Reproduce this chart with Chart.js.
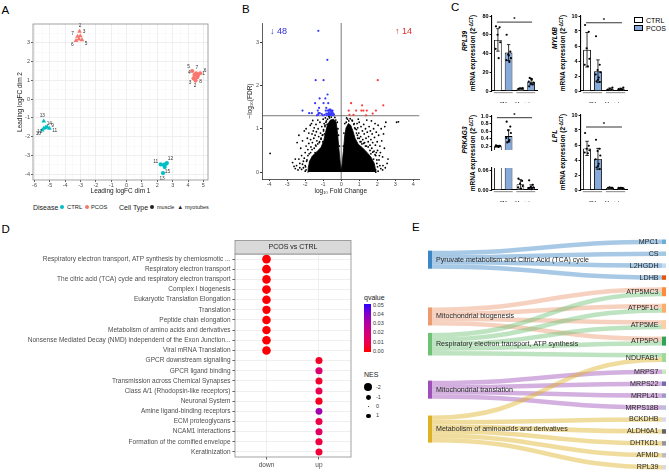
<!DOCTYPE html>
<html><head><meta charset="utf-8"><title>Figure</title>
<script src="https://cdn.jsdelivr.net/npm/chart.js@4.4.1/dist/chart.umd.min.js"></script>
<style>
html,body{margin:0;padding:0;background:#fff;}
body{width:669px;height:473px;position:relative;overflow:hidden;font-family:"Liberation Sans",Arial,Helvetica,sans-serif;color:#000;}
canvas{position:absolute;}
.t{position:absolute;white-space:nowrap;line-height:1;}
.L{font-size:11.5px;}
.rot{transform:translate(-50%,-50%) rotate(-90deg);}
.dot{position:absolute;border-radius:50%;}
sup{font-size:70%;vertical-align:0.4em;line-height:0;}
</style></head><body>
<div class="t L" style="left:1.5px;top:4.5px">A</div>
<div class="t L" style="left:242px;top:3.5px">B</div>
<div class="t L" style="left:451px;top:2px">C</div>
<div class="t L" style="left:1.5px;top:223.5px">D</div>
<div class="t L" style="left:412px;top:222px">E</div>

<!-- A legend -->
<div class="t" style="left:33px;top:204px;font-size:7px;color:#1A1A1A">Disease</div>
<div class="dot" style="left:59.7px;top:205.3px;width:4px;height:4px;background:#00BFC4"></div>
<div class="t" style="left:67px;top:204.6px;font-size:5.8px;color:#1A1A1A">CTRL</div>
<div class="dot" style="left:85.3px;top:205.3px;width:4px;height:4px;background:#F8766D"></div>
<div class="t" style="left:91px;top:204.6px;font-size:5.8px;color:#1A1A1A">PCOS</div>
<div class="t" style="left:119px;top:204px;font-size:7px;color:#1A1A1A">Cell Type</div>
<div class="dot" style="left:149.7px;top:205.3px;width:4px;height:4px;background:#222"></div>
<div class="t" style="left:157px;top:204.8px;font-size:5.5px;color:#1A1A1A">muscle</div>
<div class="t" style="left:177.3px;top:203.8px;font-size:6px;color:#222">▲</div>
<div class="t" style="left:185px;top:204.8px;font-size:5.5px;color:#1A1A1A">myotubes</div>

<!-- C axis titles -->
<div class="t rot" style="left:465px;top:41px;font-size:6.5px;font-weight:bold;font-style:italic">RPL39</div>
<div class="t rot" style="left:473px;top:53px;font-size:6.5px;font-weight:bold">mRNA expression (2<sup>-ΔCT</sup>)</div>
<div class="t rot" style="left:555px;top:38px;font-size:6.5px;font-weight:bold;font-style:italic">MYL6B</div>
<div class="t rot" style="left:563px;top:53px;font-size:6.5px;font-weight:bold">mRNA expression (2<sup>-ΔCT</sup>)</div>
<div class="t rot" style="left:465px;top:140px;font-size:6.5px;font-weight:bold;font-style:italic">PRKAG3</div>
<div class="t rot" style="left:473px;top:153px;font-size:6.5px;font-weight:bold">mRNA expression (2<sup>-ΔCT</sup>)</div>
<div class="t rot" style="left:555px;top:136px;font-size:6.5px;font-weight:bold;font-style:italic">LPL</div>
<div class="t rot" style="left:563px;top:152px;font-size:6.5px;font-weight:bold">mRNA expression (2<sup>-ΔCT</sup>)</div>
<!-- C legend -->
<div style="position:absolute;left:634px;top:17px;width:9px;height:6px;border:0.8px solid #000;background:#fff;box-sizing:border-box"></div>
<div class="t" style="left:646px;top:16.5px;font-size:7px">CTRL</div>
<div style="position:absolute;left:634px;top:25px;width:9px;height:6px;border:0.8px solid #000;background:#86AADB;box-sizing:border-box"></div>
<div class="t" style="left:646px;top:24.5px;font-size:7px">PCOS</div>

<!-- D legend -->
<div class="t" style="left:364px;top:294px;font-size:7px;color:#1A1A1A">qvalue</div>
<div style="position:absolute;left:364px;top:304px;width:6.5px;height:48px;background:linear-gradient(to top, rgb(255,0,0) 0%, rgb(234,0,80) 20%, rgb(212,0,122) 40%, rgb(178,0,160) 60%, rgb(128,0,205) 80%, rgb(40,0,255) 100%)"></div>
<div class="t" style="left:373px;top:302.5px;font-size:5.5px;color:#333">0.05</div>
<div class="t" style="left:373px;top:311.8px;font-size:5.5px;color:#333">0.04</div>
<div class="t" style="left:373px;top:321px;font-size:5.5px;color:#333">0.03</div>
<div class="t" style="left:373px;top:330.3px;font-size:5.5px;color:#333">0.02</div>
<div class="t" style="left:373px;top:339.5px;font-size:5.5px;color:#333">0.01</div>
<div class="t" style="left:373px;top:348.8px;font-size:5.5px;color:#333">0.00</div>
<div class="t" style="left:364px;top:370.5px;font-size:7px;color:#1A1A1A">NES</div>
<div class="dot" style="left:364.1px;top:383.1px;width:8.4px;height:8.4px;background:#000"></div>
<div class="t" style="left:376px;top:384.6px;font-size:5.5px;color:#333">-2</div>
<div class="dot" style="left:365.85px;top:394.85px;width:4.9px;height:4.9px;background:#000"></div>
<div class="t" style="left:376px;top:394.6px;font-size:5.5px;color:#333">-1</div>
<div class="dot" style="left:367.6px;top:406px;width:1.4px;height:1.4px;background:#000"></div>
<div class="t" style="left:376px;top:404px;font-size:5.5px;color:#333">0</div>
<div class="dot" style="left:365.85px;top:413.55px;width:4.9px;height:4.9px;background:#000"></div>
<div class="t" style="left:376px;top:413.3px;font-size:5.5px;color:#333">1</div>

<script>
Chart.defaults.font.family = '"Liberation Sans", Arial, Helvetica, sans-serif';
Chart.defaults.color = '#4D4D4D';

/* ===================== DATA ===================== */
// ---- A: MDS plot ----
const mdsXTicks = [-6,-5,-4,-3,-2,-1,0,1,2,3,4,5];
const mdsYTicks = [-4,-3,-2,-1,0,1,2,3];
const mdsCtrlMuscle = [[2.22,-3.47],[2.43,-3.50],[2.62,-3.40],[2.48,-3.61],[2.37,-3.93],[2.55,-3.45]];
const mdsCtrlMuscleIds = ['11','','12','15','13',''];
const mdsCtrlMyotubes = [[-5.40,-1.17],[-5.29,-1.51],[-5.03,-1.56],[-5.40,-1.56],[-5.50,-1.65],[-5.18,-1.47]];
const mdsCtrlMyotubesIds = ['13','14','11','12','10','9'];
const mdsPcosMuscle = [[4.27,1.50],[4.53,1.38],[4.79,1.38],[4.66,1.29],[4.42,1.29],[4.36,1.11],[4.60,1.17],[4.49,0.99]];
const mdsPcosMuscleIds = ['5','7','6','1','4','3','8','2'];
const mdsPcosMyotubes = [[-3.07,3.60],[-3.20,3.34],[-3.02,3.37],[-3.30,3.12],[-2.91,3.16],[-3.11,3.20]];
const mdsPcosMyotubesIds = ['2','7','3','6','5',''];

// ---- B: volcano plot ----
const volcanoXTicks = [-4,-3,-2,-1,0,1,2,3,4];
const volcanoYTicks = [0,1,2,3];
const fdrCut = 1.3; // -log10(0.05)
const volcanoDown = [[-1.27,3.26],[-0.77,2.59],[-1.42,2.12],[-0.98,2.12],[-0.76,1.79],[-1.20,1.70],[-0.88,1.70],[-1.45,1.59],[-0.98,1.59],[-0.72,1.59],
 [-1.23,1.48],[-0.83,1.48],[-2.15,1.42],[-1.30,1.42],[-0.86,1.42],[-0.77,1.42],[-0.70,1.42],[-0.62,1.42],[-0.55,1.42],[-0.48,1.42],
 [-1.78,1.36],[-1.63,1.36],[-1.26,1.36],[-1.19,1.36],[-1.28,1.32],[-1.08,1.34],[-0.83,1.35],[-0.74,1.35],[-0.65,1.35],[-0.55,1.36],
 [-0.46,1.36],[-0.92,1.32],[-0.80,1.31],[-0.70,1.31],[-0.62,1.31],[-0.58,1.33],[-0.52,1.32],[-0.66,1.44],[-0.60,1.44],[-0.68,1.38],
 [-0.57,1.39],[-0.50,1.39],[-0.63,1.34],[-0.71,1.33],[-0.45,1.31],[-1.02,1.31],[-1.35,1.31],[-0.40,1.33]];
const volcanoUp = [[2.03,2.12],[2.34,1.54],[0.55,1.59],[1.16,1.54],[0.42,1.42],[0.83,1.42],[1.12,1.42],[1.23,1.42],[1.42,1.42],[1.93,1.42],
 [1.75,1.35],[0.68,1.32],[0.46,1.32],[1.38,1.31]];
const volcanoOther = [[-3.95,0.43],
 [-2.62,0.13],[-2.55,0.30],[-2.45,0.68],[-2.35,0.85],[-2.30,0.20],[-2.25,0.55],[-2.20,0.38],[-2.15,0.72],[-2.10,0.10],[-2.05,0.95],
 [-2.00,0.45],[-1.95,1.00],[-1.95,0.60],[-1.90,0.28],[-1.88,0.78],[-1.85,0.52],[-1.80,0.90],[-1.80,0.66],[-1.78,0.42],[-1.72,1.08],
 [-1.70,0.75],[-1.68,0.58],[-1.65,1.12],[-1.62,0.88],[-1.60,0.68],[-1.58,1.19],[-1.55,0.95],[-1.52,0.78],[-1.50,1.02],[-1.45,0.85],
 [-1.42,0.62],[-1.40,1.10],[-1.38,0.93],[-1.35,0.72],[-1.30,1.20],[-1.28,1.00],[-1.25,0.82],[-1.22,0.68],[-1.18,1.15],[-1.15,0.90],
 [-1.12,0.76],[-1.08,1.05],[-1.05,0.85],[-1.02,0.70],[-1.00,1.22],[-0.98,0.95],[-0.95,1.12],[-0.92,0.88],[-0.90,1.05],[-0.88,1.25],
 [-2.40,0.05],[-2.00,0.15],[-2.10,0.25],[-1.95,0.05],[-2.55,0.08],[-2.70,0.22],
 [-2.00,0.02],[-1.98,0.12],[-1.92,0.25],[-1.85,0.38],[-1.70,0.45],[-1.62,0.52],[-1.50,0.55],[-1.40,0.60],[-1.30,0.65],[-1.20,0.70],
 [-1.12,0.78],[-1.02,0.86],[-0.98,0.98],[-0.90,1.08],[-0.85,1.15],[-0.76,1.22],[-0.68,1.28],[-2.20,0.06],[-2.30,0.10],[-2.15,0.18],
 [-2.05,0.32],[-1.75,0.22],[-1.60,0.35],[-1.45,0.45],[-2.35,0.30],[-2.48,0.15],
 [3.08,1.15],[3.18,1.16],[2.55,0.20],[2.48,1.15],[2.42,1.05],[2.40,0.55],[2.35,0.88],[2.32,0.15],[2.30,0.35],[2.25,0.72],
 [2.22,1.00],[2.18,0.45],[2.15,0.60],[2.10,0.28],[2.08,0.85],[2.05,1.08],[2.02,0.50],[2.00,0.70],[1.98,0.20],[1.95,0.92],
 [1.92,0.38],[1.90,0.62],[1.88,1.12],[1.85,0.80],[1.82,0.48],[1.80,1.00],[1.75,0.68],[1.72,0.88],[1.70,0.55],[1.68,1.18],
 [1.65,0.75],[1.62,0.95],[1.60,0.62],[1.55,1.05],[1.52,0.82],[1.50,0.70],[1.45,0.92],[1.42,1.20],[1.40,0.60],[1.38,0.78],
 [1.35,1.00],[1.30,0.68],[1.28,0.88],[1.25,1.10],[1.20,0.75],[1.18,0.95],[1.15,0.65],[1.10,1.05],[1.08,0.82],[1.05,0.70],
 [1.00,1.15],[0.98,0.90],[0.95,1.22],[0.92,1.02],[0.90,0.85],[0.88,1.12],[0.85,0.98],[2.45,0.10],[2.60,0.30],
 [2.05,0.02],[2.02,0.12],[1.98,0.28],[1.88,0.40],[1.75,0.46],[1.60,0.50],[1.50,0.58],[1.35,0.60],[1.25,0.66],[1.10,0.70],
 [1.00,0.78],[0.92,0.78],[0.85,0.90],[0.78,1.00],[0.72,1.12],[0.62,1.18],[2.20,0.08],[2.30,0.05],[2.15,0.15],[2.12,0.38],
 [1.95,0.45],[1.80,0.30],[1.65,0.42],
 [-0.82,1.18],[-0.78,1.10],[-0.65,1.25],[-0.55,1.27],[-0.35,1.26],[-0.30,1.20],[-0.22,1.15],[-0.18,1.00],[-0.15,0.85],[-0.10,0.60],
 [0.15,0.90],[0.20,1.12],[0.28,1.15],[0.35,1.22],[0.50,1.23],[0.60,1.20],[0.70,1.10],[0.75,1.02],[0.12,0.60],[0.30,1.25],[0.42,1.18]];
// outline of the saturated (overplotted) cloud of non-significant genes
const volcanoCore = [[-1.85,-0.02],[-1.83,0.10],[-1.75,0.26],[-1.58,0.38],[-1.35,0.47],[-1.12,0.57],[-0.97,0.72],[-0.87,0.92],[-0.76,1.10],[-0.60,1.20],
 [-0.42,1.22],[-0.28,1.15],[-0.21,0.93],[-0.13,0.55],[-0.05,0.20],[0.00,0.03],[0.05,0.18],[0.12,0.48],[0.20,0.86],[0.27,1.02],
 [0.40,1.12],[0.53,1.08],[0.65,0.95],[0.77,0.78],[0.95,0.64],[1.18,0.56],[1.42,0.46],[1.66,0.34],[1.84,0.20],[1.90,0.07],[1.92,-0.02]];

// ---- C: qPCR bar charts ----
const cGroups = ['SM','Myotubes'];
const rpl39CtrlMean = [54.5, 2.6],  rpl39CtrlSD = [12, 0.4];
const rpl39PcosMean = [41, 10],     rpl39PcosSD = [8.5, 3.3];
const rpl39CtrlDots = [[69,68,60,52,45,35],[2.2,2.5,2.8,3.0]];
const rpl39PcosDots = [[60,42,39,35,33,31,38],[5,7,8,9,10,12,13,14]];
const rpl39Sig = 73.5, rpl39Ticks = [0,20,40,60,80];
const myl6bCtrlMean = [5.5, 0.25],  myl6bCtrlSD = [2.3, 0.15];
const myl6bPcosMean = [2.65, 0.25], myl6bPcosSD = [1.5, 0.12];
const myl6bCtrlDots = [[8.8,7.9,5.7,4.3,3.5,3.3],[0.1,0.2,0.3,0.45,0.2]];
const myl6bPcosDots = [[7.3,3.5,2.8,2.5,2.2,1.8,1.5,1.3,1.2],[0.1,0.2,0.3,0.45,0.25,0.2]];
const myl6bSig = 9.1, myl6bTicks = [0,2,4,6,8,10];
const prkag3CtrlMean = [0.2, 0.018],  prkag3CtrlSD = [0.022, 0.014];
const prkag3PcosMean = [0.47, 0.009], prkag3PcosSD = [0.16, 0.007];
const prkag3CtrlDots = [[0.22,0.21,0.2,0.2,0.19,0.18],[0.035,0.028,0.02,0.012,0.008,0.004]];
const prkag3PcosDots = [[0.85,0.72,0.62,0.55,0.42,0.36,0.33,0.3],[0.03,0.016,0.01,0.008,0.005,0.003,0.002]];
const prkag3Sig = 0.955, prkag3TicksHigh = [0.2,0.4,0.6,0.8,1.0], prkag3TicksLow = [0,0.06];
const lplCtrlMean = [5.55, 0.3],  lplCtrlSD = [0.95, 0.05];
const lplPcosMean = [4.15, 0.25], lplPcosSD = [1.4, 0.06];
const lplCtrlDots = [[7.6,5.9,5.5,5.3,5.0,4.9],[0.3,0.28,0.35,0.3]];
const lplPcosDots = [[6.7,5.5,5.2,4.6,4.1,3.5,3.2,3.0,2.8],[0.25,0.2,0.3,0.22,0.28,0.3]];
const lplSig = 8.4, lplTicks = [0,2,4,6,8,10];

// ---- D: GSEA dot plot ----
const dFacet = 'PCOS vs CTRL';
const dDirLabels = ['down','up'];
const dTerms = ['Respiratory electron transport, ATP synthesis by chemiosmotic ...','Respiratory electron transport',
 'The citric acid (TCA) cycle and respiratory electron transport','Complex I biogenesis','Eukaryotic Translation Elongation',
 'Translation','Peptide chain elongation','Metabolism of amino acids and derivatives',
 'Nonsense Mediated Decay (NMD) independent of the Exon Junction...','Viral mRNA Translation',
 'GPCR downstream signalling','GPCR ligand binding','Transmission across Chemical Synapses','Class A/1 (Rhodopsin-like receptors)',
 'Neuronal System','Amine ligand-binding receptors','ECM proteoglycans','NCAM1 interactions','Formation of the cornified envelope','Keratinization'];
const dDirection = ['down','down','down','down','down','down','down','down','down','down','up','up','up','up','up','up','up','up','up','up'];
const dNES = [-2.1,-2.1,-2.05,-2.1,-2.05,-2.0,-2.05,-2.0,-2.05,-2.05,1.6,1.65,1.6,1.6,1.65,1.55,1.6,1.6,1.65,1.6];
const dQvalue = [0.0005,0.0005,0.0005,0.0005,0.0005,0.0005,0.0005,0.0005,0.0005,0.0005,0.005,0.017,0.006,0.01,0.004,0.033,0.009,0.014,0.008,0.007];

// ---- E: sankey ----
const sankeyPathways = ['Pyruvate metabolism and Citric Acid (TCA) cycle','Mitochondrial biogenesis',
 'Respiratory electron transport, ATP synthesis','Mitochondrial translation','Metabolism of aminoacids and derivatives'];
const sankeyGenes = ['MPC1','CS','L2HGDH','LDHB','ATP5MC3','ATP5F1C','ATP5ME','ATP5PO','NDUFAB1','MRPS7','MRPS22','MRPL41','MRPS18B',
 'BCKDHB','ALDH6A1','DHTKD1','AFMID','RPL39'];
const sankeyLinks = [[0,'MPC1'],[0,'CS'],[0,'L2HGDH'],[0,'LDHB'],
 [1,'ATP5MC3'],[1,'ATP5F1C'],[1,'ATP5ME'],[1,'ATP5PO'],
 [2,'ATP5MC3'],[2,'ATP5F1C'],[2,'ATP5ME'],[2,'ATP5PO'],[2,'NDUFAB1'],
 [3,'MRPS7'],[3,'MRPS22'],[3,'MRPL41'],[3,'MRPS18B'],
 [4,'NDUFAB1'],[4,'BCKDHB'],[4,'ALDH6A1'],[4,'DHTKD1'],[4,'AFMID'],[4,'RPL39']];

/* ===================== HELPERS ===================== */
const FONT = '"Liberation Sans", Arial, Helvetica, sans-serif';
function mkCanvas(left, top, w, h){
  const c = document.createElement('canvas');
  c.width = w; c.height = h;
  Object.assign(c.style, {left:left+'px', top:top+'px', width:w+'px', height:h+'px'});
  document.body.appendChild(c);
  return c;
}
function baseOptions(extra){
  return Object.assign({responsive:false, maintainAspectRatio:false, animation:false, devicePixelRatio:1, events:[]}, extra);
}
const noLegend = {legend:{display:false}, tooltip:{enabled:false}};
const framePlugin = (color, width) => ({id:'frame', afterDraw(chart){
  const a = chart.chartArea, c = chart.ctx; c.save(); c.strokeStyle = color; c.lineWidth = width;
  c.strokeRect(a.left, a.top, a.right-a.left, a.bottom-a.top); c.restore(); }});
const isInt = v => Math.abs(v - Math.round(v)) < 1e-6;
function majorMinor(ticks, min, max){
  const step = ticks[1]-ticks[0], out = [];
  for (let v = ticks[0]-step/2; v <= ticks[ticks.length-1]+step/2+1e-9; v += step/2){
    const r = Math.round(v*2)/2; if (r >= min && r <= max) out.push({value:r});
  }
  return out;
}
const toXY = arr => arr.map(([x,y]) => ({x, y}));

/* ===================== A ===================== */
(function(){
  const cv = mkCanvas(0, 0, 230, 200);
  const xMin = -6.1, xMax = 5.3, yMin = -4.3, yMax = 4.0;
  const ds = (pts, color, style) => ({data: toXY(pts), pointStyle: style, pointRadius: style === 'triangle' ? 2.7 : 2.1,
    backgroundColor: color, borderColor: color, borderWidth: 0});
  const gridOpts = {
    color: c => (c.tick && isInt(c.tick.value)) ? '#EBEBEB' : '#F5F5F5',
    lineWidth: c => (c.tick && isInt(c.tick.value)) ? 0.8 : 0.5,
    tickColor: c => (c.tick && isInt(c.tick.value)) ? '#333' : 'rgba(0,0,0,0)',
    tickLength: 2
  };
  const idSets = [mdsCtrlMuscleIds, mdsCtrlMyotubesIds, mdsPcosMuscleIds, mdsPcosMyotubesIds];
  const labelPlugin = {id:'mdsLabels', afterDatasetsDraw(chart){
    const ctx = chart.ctx; ctx.save();
    ctx.font = '4.8px ' + FONT; ctx.fillStyle = '#333'; ctx.textAlign = 'center'; ctx.textBaseline = 'middle';
    chart.data.datasets.forEach((d, di) => {
      const pts = chart.getDatasetMeta(di).data;
      const cx = pts.reduce((a,p)=>a+p.x,0)/pts.length, cy = pts.reduce((a,p)=>a+p.y,0)/pts.length;
      pts.forEach((p, i) => {
        const id = idSets[di][i]; if (!id) return;
        let dx = p.x-cx, dy = p.y-cy; if (Math.hypot(dx,dy) < 0.5) { dx = 1; dy = -1; }
        const n = Math.hypot(dx,dy);
        ctx.fillText(id, p.x + dx/n*5.5, p.y + dy/n*5.5);
      });
    });
    ctx.restore();
  }};
  new Chart(cv, {type:'scatter', data:{datasets:[
      ds(mdsCtrlMuscle,'#00BFC4','circle'), ds(mdsCtrlMyotubes,'#00BFC4','triangle'),
      ds(mdsPcosMuscle,'#F8766D','circle'), ds(mdsPcosMyotubes,'#F8766D','triangle')]},
    options: baseOptions({layout:{padding:{left:13, top:24, right:22, bottom:4.4}}, plugins: noLegend,
      scales:{
        x:{type:'linear', min:xMin, max:xMax, afterBuildTicks: s => { s.ticks = majorMinor(mdsXTicks, xMin, xMax); },
           afterFit: s => { s.height = 15.6; },
           ticks:{callback: v => isInt(v) ? String(Math.round(v)) : '', font:{size:5.5}, color:'#4D4D4D', padding:0, maxRotation:0, autoSkip:false},
           grid: gridOpts, border:{display:false},
           title:{display:true, text:'Leading logFC dim 1', font:{size:6.5}, color:'#1A1A1A', padding:{top:0, bottom:0}}},
        y:{type:'linear', min:yMin, max:yMax, afterBuildTicks: s => { s.ticks = majorMinor(mdsYTicks, yMin, yMax); },
           afterFit: s => { s.width = 20; },
           ticks:{callback: v => isInt(v) ? String(Math.round(v)) : '', font:{size:5.5}, color:'#4D4D4D', padding:1, autoSkip:false},
           grid: gridOpts, border:{display:false},
           title:{display:true, text:'Leading logFC dim 2', font:{size:6.5}, color:'#1A1A1A', padding:{top:3.8, bottom:0}}}
      }}),
    plugins:[framePlugin('#8C8C8C', 0.8), labelPlugin]
  });
})();

/* ===================== B ===================== */
(function(){
  const cv = mkCanvas(225, 0, 200, 200);
  const xMin = -4.4, xMax = 4.35, yMin = -0.16, yMax = 3.44;
  const annot = {id:'volcanoAnnot', afterDraw(chart){
    const {ctx, scales:{x, y}} = chart; ctx.save();
    ctx.font = '9px ' + FONT; ctx.textBaseline = 'middle';
    ctx.fillStyle = '#2B2BE0'; ctx.textAlign = 'left';
    ctx.fillText('↓ ' + volcanoDown.length, x.getPixelForValue(-3.95), y.getPixelForValue(3.25));
    ctx.fillStyle = '#E02B2B'; ctx.textAlign = 'right';
    ctx.fillText('↑ ' + volcanoUp.length, x.getPixelForValue(3.93), y.getPixelForValue(3.25));
    ctx.restore();
  }};
  new Chart(cv, {type:'scatter', data:{datasets:[
      {type:'line', data: toXY(volcanoCore), fill:'origin', backgroundColor:'#000', borderColor:'#000', borderWidth:0.8, pointRadius:0, tension:0},
      {data: toXY(volcanoOther), pointRadius:0.9, backgroundColor:'#000', borderWidth:0},
      {data: toXY(volcanoDown), pointRadius:1.1, backgroundColor:'#3838FF', borderWidth:0},
      {data: toXY(volcanoUp), pointRadius:1.1, backgroundColor:'#FF3838', borderWidth:0},
      {type:'line', data:[{x:xMin, y:fdrCut},{x:xMax, y:fdrCut}], borderColor:'#555', borderWidth:0.8, pointRadius:0, fill:false},
      {type:'line', data:[{x:0, y:yMin},{x:0, y:yMax}], borderColor:'#555', borderWidth:0.8, pointRadius:0, fill:false}
    ]},
    options: baseOptions({layout:{padding:{left:19, top:23, right:5.5, bottom:4.4}}, plugins: noLegend,
      scales:{
        x:{type:'linear', min:xMin, max:xMax, afterBuildTicks: s => { s.ticks = volcanoXTicks.map(v => ({value:v})); },
           afterFit: s => { s.height = 16.6; },
           ticks:{font:{size:5.5}, color:'#4D4D4D', padding:0, maxRotation:0, autoSkip:false},
           grid:{drawOnChartArea:false, tickLength:2, tickColor:'#333'}, border:{display:true, color:'#333', width:0.8},
           title:{display:true, text:'log₁₀ Fold Change', font:{size:6.5}, color:'#1A1A1A', padding:{top:0, bottom:0}}},
        y:{type:'linear', min:yMin, max:yMax, afterBuildTicks: s => { s.ticks = volcanoYTicks.map(v => ({value:v})); },
           afterFit: s => { s.width = 18; },
           ticks:{font:{size:5.5}, color:'#4D4D4D', padding:1, autoSkip:false},
           grid:{drawOnChartArea:false, tickLength:2, tickColor:'#333'}, border:{display:true, color:'#333', width:0.8},
           title:{display:true, text:'−log₁₀(FDR)', font:{size:6.5}, color:'#1A1A1A', padding:{top:2.1, bottom:0}}}
      }}),
    plugins:[annot]
  });
})();

/* ===================== C ===================== */
const jitter = [-0.25, 0.22, -0.05, 0.3, -0.3, 0.1, 0.02, -0.18, 0.24];
function barExtras(o){
  return {id:'barExtras', afterDatasetsDraw(chart){
    const {ctx, chartArea:a, scales:{y}} = chart;
    const sets = [{mean:o.ctrlMean, sd:o.ctrlSD, dots:o.ctrlDots}, {mean:o.pcosMean, sd:o.pcosSD, dots:o.pcosDots}];
    ctx.save(); ctx.beginPath(); ctx.rect(a.left-4, a.top-0.5, a.right-a.left+8, a.bottom-a.top+1); ctx.clip();
    sets.forEach((s, di) => {
      chart.getDatasetMeta(di).data.forEach((bar, j) => {
        const x = bar.x, w = bar.width;
        const yHi = y.getPixelForValue(s.mean[j]+s.sd[j]), yLo = y.getPixelForValue(Math.max(s.mean[j]-s.sd[j], 0));
        ctx.strokeStyle = '#000'; ctx.lineWidth = 0.8;
        ctx.beginPath(); ctx.moveTo(x, yLo); ctx.lineTo(x, yHi);
        ctx.moveTo(x-w*0.22, yHi); ctx.lineTo(x+w*0.22, yHi);
        ctx.moveTo(x-w*0.22, yLo); ctx.lineTo(x+w*0.22, yLo); ctx.stroke();
        ctx.fillStyle = '#000';
        s.dots[j].forEach((v, k) => {
          ctx.beginPath(); ctx.arc(x + jitter[k % jitter.length]*w, y.getPixelForValue(v), 1.1, 0, Math.PI*2); ctx.fill();
        });
      });
    });
    ctx.restore();
    if (o.sig != null){
      const b0 = chart.getDatasetMeta(0).data[0], b1 = chart.getDatasetMeta(1).data[1];
      const ys = y.getPixelForValue(o.sig);
      ctx.save(); ctx.strokeStyle = '#000'; ctx.lineWidth = 0.8;
      ctx.beginPath(); ctx.moveTo(b0.x-1, ys); ctx.lineTo(b1.x+1, ys); ctx.stroke();
      ctx.fillStyle = '#000'; ctx.font = 'bold 6px ' + FONT; ctx.textAlign = 'center'; ctx.textBaseline = 'bottom';
      ctx.fillText('*', (b0.x+b1.x)/2, ys+0.5); ctx.restore();
    }
    if (o.showX){
      // grey group underline beneath each x category label
      const xs = chart.scales.x; ctx.save(); ctx.strokeStyle = '#9A9A9A'; ctx.lineWidth = 1.2;
      cGroups.forEach((g,i) => {
        const c = xs.getPixelForValue(i), half = (xs.width/cGroups.length)*0.42;
        ctx.beginPath(); ctx.moveTo(c-half, a.bottom+1.6); ctx.lineTo(c+half, a.bottom+1.6); ctx.stroke();
      });
      ctx.restore();
    }
  }};
}
function barPanel(o){
  const xH = o.showX ? 12 : 0, padB = o.showX ? 0 : 2;
  const cl = o.left - 50, ct = o.top - 8, cw = o.right + 4 - cl, ch = o.bottom + xH + padB - ct;
  const cv = mkCanvas(cl, ct, cw, ch);
  const barStyle = {categoryPercentage:0.95, barPercentage:0.72, borderColor:'#000', borderWidth:0.9};
  new Chart(cv, {type:'bar', data:{labels:cGroups, datasets:[
      Object.assign({label:'CTRL', data:o.ctrlMean, backgroundColor:'#FFFFFF'}, barStyle),
      Object.assign({label:'PCOS', data:o.pcosMean, backgroundColor:'#86AADB'}, barStyle)]},
    options: baseOptions({layout:{padding:{left:0, top:8, right:4, bottom:padB}}, plugins: noLegend,
      scales:{
        y:{min:o.yMin, max:o.yMax, afterBuildTicks: s => { s.ticks = o.ticks.map(v => ({value:v})); },
           afterFit: s => { s.width = 50; },
           ticks:{callback: v => o.fmt(v), font:{size:5.5, weight:'bold'}, color:'#000', padding:1, autoSkip:false},
           grid:{drawOnChartArea:false, tickLength:2.5, tickColor:'#000', tickWidth:0.9},
           border:{display:true, color:'#000', width:1.1}},
        x:{display:o.showX, afterFit: s => { s.height = 12; },
           ticks:{font:{size:4.8}, color:'#000', padding:2.5, autoSkip:false, maxRotation:0, minRotation:0},
           grid:{display:false}, border:{display:true, color:'#000', width:1.1}}
      }}),
    plugins:[barExtras(o)]
  });
}
barPanel({left:492, right:537, top:16, bottom:91, yMin:0, yMax:80, ticks:rpl39Ticks, fmt:v=>String(v), showX:true,
  ctrlMean:rpl39CtrlMean, ctrlSD:rpl39CtrlSD, pcosMean:rpl39PcosMean, pcosSD:rpl39PcosSD,
  ctrlDots:rpl39CtrlDots, pcosDots:rpl39PcosDots, sig:rpl39Sig});
barPanel({left:581, right:627, top:16, bottom:91, yMin:0, yMax:10, ticks:myl6bTicks, fmt:v=>String(v), showX:true,
  ctrlMean:myl6bCtrlMean, ctrlSD:myl6bCtrlSD, pcosMean:myl6bPcosMean, pcosSD:myl6bPcosSD,
  ctrlDots:myl6bCtrlDots, pcosDots:myl6bPcosDots, sig:myl6bSig});
barPanel({left:492, right:537, top:116, bottom:162, yMin:0.1, yMax:1.0, ticks:prkag3TicksHigh, fmt:v=>v.toFixed(1), showX:false,
  ctrlMean:prkag3CtrlMean, ctrlSD:prkag3CtrlSD, pcosMean:prkag3PcosMean, pcosSD:prkag3PcosSD,
  ctrlDots:prkag3CtrlDots, pcosDots:prkag3PcosDots, sig:prkag3Sig});
barPanel({left:492, right:537, top:168, bottom:190, yMin:0, yMax:0.068, ticks:prkag3TicksLow, fmt:v=>v.toFixed(2), showX:true,
  ctrlMean:prkag3CtrlMean, ctrlSD:prkag3CtrlSD, pcosMean:prkag3PcosMean, pcosSD:prkag3PcosSD,
  ctrlDots:prkag3CtrlDots, pcosDots:prkag3PcosDots, sig:null});
barPanel({left:581, right:627, top:115, bottom:190, yMin:0, yMax:10, ticks:lplTicks, fmt:v=>String(v), showX:true,
  ctrlMean:lplCtrlMean, ctrlSD:lplCtrlSD, pcosMean:lplPcosMean, pcosSD:lplPcosSD,
  ctrlDots:lplCtrlDots, pcosDots:lplPcosDots, sig:lplSig});

/* ===================== D ===================== */
(function(){
  const cv = mkCanvas(0, 225, 356, 245);
  const qStops = [[0,[255,0,0]],[0.01,[234,0,80]],[0.02,[212,0,122]],[0.03,[178,0,160]],[0.04,[128,0,205]],[0.05,[40,0,255]]];
  const qColor = q => {
    for (let i = 1; i < qStops.length; i++){
      if (q <= qStops[i][0]){
        const [q0,c0] = qStops[i-1], [q1,c1] = qStops[i], t = (q-q0)/(q1-q0);
        return 'rgb(' + c0.map((c,k) => Math.round(c + (c1[k]-c)*t)).join(',') + ')';
      }
    }
    return 'rgb(40,0,255)';
  };
  const nesRadius = n => 0.7 + 1.75*Math.abs(n);
  const strip = {id:'strip', afterDraw(chart){
    const a = chart.chartArea, c = chart.ctx, h = 13.6; c.save();
    c.fillStyle = '#D9D9D9'; c.fillRect(a.left, a.top-h, a.right-a.left, h);
    c.strokeStyle = '#8C8C8C'; c.lineWidth = 0.8; c.strokeRect(a.left, a.top-h, a.right-a.left, h);
    c.fillStyle = '#1A1A1A'; c.font = '7px ' + FONT; c.textAlign = 'center'; c.textBaseline = 'middle';
    c.fillText(dFacet, (a.left+a.right)/2, a.top-h/2+0.3); c.restore();
  }};
  new Chart(cv, {type:'scatter', data:{datasets:[{
      data: dTerms.map((t,i) => ({x: dDirLabels.indexOf(dDirection[i]), y: t})),
      pointRadius: c => nesRadius(dNES[c.dataIndex]),
      backgroundColor: c => qColor(dQvalue[c.dataIndex]), borderWidth:0 }]},
    options: baseOptions({layout:{padding:{left:0, top:29, right:5, bottom:0}}, plugins: noLegend,
      scales:{
        x:{type:'linear', min:-0.6, max:1.61, afterBuildTicks: s => { s.ticks = dDirLabels.map((d,i) => ({value:i})); },
           afterFit: s => { s.height = 13; },
           ticks:{callback: v => dDirLabels[v], font:{size:6.5}, color:'#4D4D4D', padding:1.5, autoSkip:false, maxRotation:0},
           grid:{color:'#EBEBEB', lineWidth:0.8, tickColor:'#333', tickLength:2.5}, border:{display:false}},
        y:{type:'category', labels: dTerms, offset:true, afterFit: s => { s.width = 235; },
           ticks:{font:{size:6.5}, color:'#4D4D4D', padding:2, autoSkip:false},
           grid:{offset:false, color:'#EBEBEB', lineWidth:0.8, tickColor:'#333', tickLength:2.5}, border:{display:false}}
      }}),
    plugins:[framePlugin('#8C8C8C', 0.8), strip]
  });
})();

/* ===================== E ===================== */
(function(){
  const cv = mkCanvas(400, 230, 269, 243);
  const pad = 1.644;
  const gIdx = {}; sankeyGenes.forEach((g,i) => gIdx[g] = i);
  const L = sankeyLinks.map(([s,t]) => ({s, t: gIdx[t], v: 1}));
  const gVal = sankeyGenes.map((g,i) => L.filter(l => l.t === i).reduce((a,l)=>a+l.v,0));
  const pVal = sankeyPathways.map((p,i) => L.filter(l => l.s === i).reduce((a,l)=>a+l.v,0));
  let acc = 0; const gY0 = gVal.map(v => { const y0 = acc; acc += v + pad; return y0; });
  const total = acc - pad;
  const pY0 = pVal.map((v,i) => {
    const cs = L.filter(l => l.s === i).map(l => gY0[l.t] + gVal[l.t]/2);
    return cs.reduce((a,b)=>a+b,0)/cs.length - v/2;
  });
  for (let i = 1; i < pY0.length; i++){ const m = pY0[i-1] + pVal[i-1] + pad; if (pY0[i] < m) pY0[i] = m; }
  const last = pY0.length-1;
  if (pY0[last] + pVal[last] > total){
    pY0[last] = total - pVal[last];
    for (let i = last-1; i >= 0; i--){ const m = pY0[i+1] - pad - pVal[i]; if (pY0[i] > m) pY0[i] = m; }
  }
  // link slots
  const sOff = pY0.slice(), tOff = gY0.slice();
  [...L].sort((a,b) => a.s-b.s || a.t-b.t).forEach(l => { l.sy = sOff[l.s] + l.v/2; sOff[l.s] += l.v; });
  [...L].sort((a,b) => a.t-b.t || a.s-b.s).forEach(l => { l.ty = tOff[l.t] + l.v/2; tOff[l.t] += l.v; });

  const pathwayColors = ['#3B87C6','#EC9A70','#6DC273','#9E50B8','#DDB325'];
  const geneColors = ['#6BAED6','#9ECAE1','#C6DBEF','#E6550D','#FD8D3C','#FDAE6B','#FDD0A2','#31A354','#A1D99B','#C7E9C0',
    '#756BB1','#9E9AC8','#BCBDDC','#DADAEB','#636363','#969696','#BDBDBD','#D9D9D9'];
  const nodeW = 4;
  const sankeyDraw = {id:'sankey', afterDatasetsDraw(chart){
    const {ctx, scales:{x, y}} = chart;
    const px = v => y.getPixelForValue(v);
    const unit = Math.abs(px(1) - px(0));
    const xL = x.getPixelForValue(0), xR = x.getPixelForValue(1);
    const x0 = xL + nodeW, x1 = xR - nodeW, xm = (x0+x1)/2;
    ctx.save();
    // links
    L.forEach(l => {
      ctx.globalAlpha = 0.45; ctx.strokeStyle = pathwayColors[l.s]; ctx.lineWidth = l.v*unit;
      ctx.beginPath(); ctx.moveTo(x0, px(l.sy)); ctx.bezierCurveTo(xm, px(l.sy), xm, px(l.ty), x1, px(l.ty)); ctx.stroke();
    });
    ctx.globalAlpha = 1;
    // nodes
    pY0.forEach((y0,i) => { ctx.fillStyle = pathwayColors[i]; ctx.fillRect(xL, px(y0), nodeW, pVal[i]*unit); });
    gY0.forEach((y0,i) => { ctx.fillStyle = geneColors[i]; ctx.fillRect(x1, px(y0), nodeW, gVal[i]*unit); });
    // labels
    ctx.fillStyle = '#2A2A2A'; ctx.font = '7.1px ' + FONT; ctx.textBaseline = 'middle';
    ctx.textAlign = 'left';
    sankeyPathways.forEach((p,i) => ctx.fillText(p, x0 + 4, px(pY0[i] + pVal[i]/2)));
    ctx.textAlign = 'right';
    sankeyGenes.forEach((g,i) => ctx.fillText(g, x1 - 3.5, px(gY0[i] + gVal[i]/2)));
    ctx.restore();
  }};
  new Chart(cv, {type:'scatter', data:{datasets:[
      {data: sankeyGenes.map((g,i) => ({x:1, y: gY0[i] + gVal[i]/2})), pointRadius:0},
      {data: sankeyPathways.map((p,i) => ({x:0, y: pY0[i] + pVal[i]/2})), pointRadius:0}]},
    options: baseOptions({layout:{padding:{left:28, top:9.5, right:3, bottom:3.5}}, plugins: noLegend,
      scales:{ x:{type:'linear', display:false, min:0, max:1}, y:{type:'linear', display:false, min:0, max:total, reverse:true} }}),
    plugins:[sankeyDraw]
  });
})();
</script>
</body></html>
